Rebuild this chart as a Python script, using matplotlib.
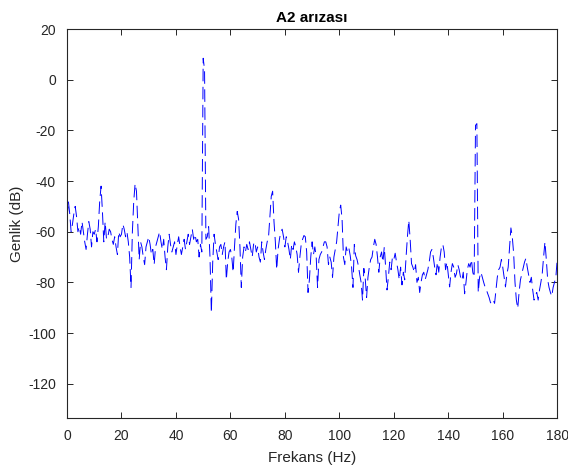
import numpy as np
import matplotlib
matplotlib.use("Agg")
import matplotlib.pyplot as plt

# spectrum, 0.5 Hz steps from 0 to 180 Hz
freq_step = 0.5
genlik_db = [
    -55, -48, -53, -60, -57, -53, -50, -54, -60, -58,          # 0-4.5
    -61, -56, -60, -64, -67, -61, -56, -59, -66, -60,          # 5-9.5
    -61, -59, -64, -58, -48, -42, -52, -64, -56, -63,          # 10-14.5
    -62, -59, -60, -63, -65, -62, -66, -69, -60, -62,          # 15-19.5
    -61, -57, -59, -62, -60, -64, -70, -82, -60, -48,          # 20-24.5
    -41, -44, -58, -71, -64, -66, -70, -73, -66, -64,          # 25-29.5
    -62, -65, -69, -67, -73, -66, -64, -62, -60, -64,          # 30-34.5
    -67, -63, -70, -75, -66, -61, -65, -68, -66, -64,          # 35-39.5
    -69, -65, -62, -66, -69, -66, -63, -67, -64, -61,          # 40-44.5
    -65, -62, -59, -63, -61, -64, -63, -70, -65, -68,          # 45-49.5
    8.5, 4, -63, -62, -58, -70, -92, -72, -61, -65,            # 50-54.5
    -68, -71, -66, -65, -69, -66, -64, -79, -72, -68,          # 55-59.5
    -67, -70, -76, -66, -57, -52, -55, -66, -82, -70,          # 60-64.5
    -66, -68, -65, -67, -64, -67, -70, -65, -64, -68,          # 65-69.5
    -66, -70, -72, -64, -68, -71, -67, -64, -62, -54,          # 70-74.5
    -46, -44, -56, -64, -75, -67, -63, -60, -59, -62,          # 75-79.5
    -66, -62, -64, -67, -71, -65, -67, -64, -66, -69,          # 80-84.5
    -76, -70, -65, -63, -61.5, -62, -68, -84, -79, -70,        # 85-89.5
    -64, -69, -66, -70, -82, -71, -69, -68, -66, -64,          # 90-94.5
    -64, -66, -73, -70, -72, -78, -70, -67, -64, -58,          # 95-99.5
    -52, -49.5, -55, -70, -73, -66, -68, -66.5, -69.5, -74,    # 100-104.5
    -82, -65, -69.5, -71, -73.5, -77, -80, -87, -74.5, -78.5,  # 105-109.5
    -86, -78, -74, -71, -70, -66, -63, -65, -70, -76,          # 110-114.5
    -70, -68, -72, -66, -74, -83, -78, -72, -75, -70,          # 115-119.5
    -71, -68.5, -72, -75, -79, -74, -81, -76, -79, -70,        # 120-124.5
    -62, -55.5, -63, -72.6, -74, -76, -73, -80, -78, -84,      # 125-129.5
    -80, -77, -76, -79, -77, -75, -72, -68, -67, -70,          # 130-134.5
    -74, -77, -72, -76, -70, -66, -65, -68, -75, -72,          # 135-139.5
    -77, -81.8, -76, -72.6, -74, -78, -76.6, -73, -75, -78,    # 140-144.5
    -79.3, -76, -84.5, -80, -75, -72.6, -74, -71, -76, -78,    # 145-149.5
    -18, -17.3, -84, -78, -76, -78, -80, -81.8, -83, -84.5,    # 150-154.5
    -86, -88, -88.3, -87, -88.3, -83, -78, -75, -74, -71,      # 155-159.5
    -74, -78, -81.8, -77, -74, -66, -58.5, -62, -68.5, -80,    # 160-164.5
    -87, -90.3, -84, -79, -76.6, -74, -72, -70.5, -74, -77,    # 165-169.5
    -80, -78, -83, -87, -85, -84, -87, -83, -80, -76.6,        # 170-174.5
    -70, -64, -71, -79, -82, -84, -85.5, -82, -80, -78,        # 175-179.5
    -71,                                                       # 180
]
frekans = np.arange(len(genlik_db)) * freq_step

x_ticks = [0, 20, 40, 60, 80, 100, 120, 140, 160, 180]
y_ticks = [20, 0, -20, -40, -60, -80, -100, -120]

plt.rcParams['font.family'] = ['Liberation Sans', 'DejaVu Sans']
plt.rcParams['lines.scale_dashes'] = False
plt.rcParams['axes.unicode_minus'] = False  # plain hyphen like the reference
dark = '#262626'

fig = plt.figure(figsize=(5.68, 4.70), dpi=100)
ax = fig.add_axes([0.118, 0.111, 0.863, 0.827])

ax.plot(frekans, genlik_db, color='#0000ff', lw=0.7, dashes=(9, 4))

ax.set_xlim(0, 180)
ax.set_ylim(-133.5, 20)
ax.set_xticks(x_ticks)
ax.set_yticks(y_ticks)
ax.tick_params(direction='in', length=4, width=0.7, top=True, right=True,
               labelsize=10, colors=dark, labelcolor=dark, pad=8)
for sp in ax.spines.values():
    sp.set_color(dark)
    sp.set_linewidth(0.8)

ax.set_xlabel('Frekans (Hz)', fontsize=11, color=dark, labelpad=6)
ax.set_ylabel('Genlik (dB)', fontsize=11, color=dark, labelpad=3)
ax.set_title('A2 arızası', fontsize=11, fontweight='bold', color='black', pad=5)

plt.savefig('out.png', dpi=100)
